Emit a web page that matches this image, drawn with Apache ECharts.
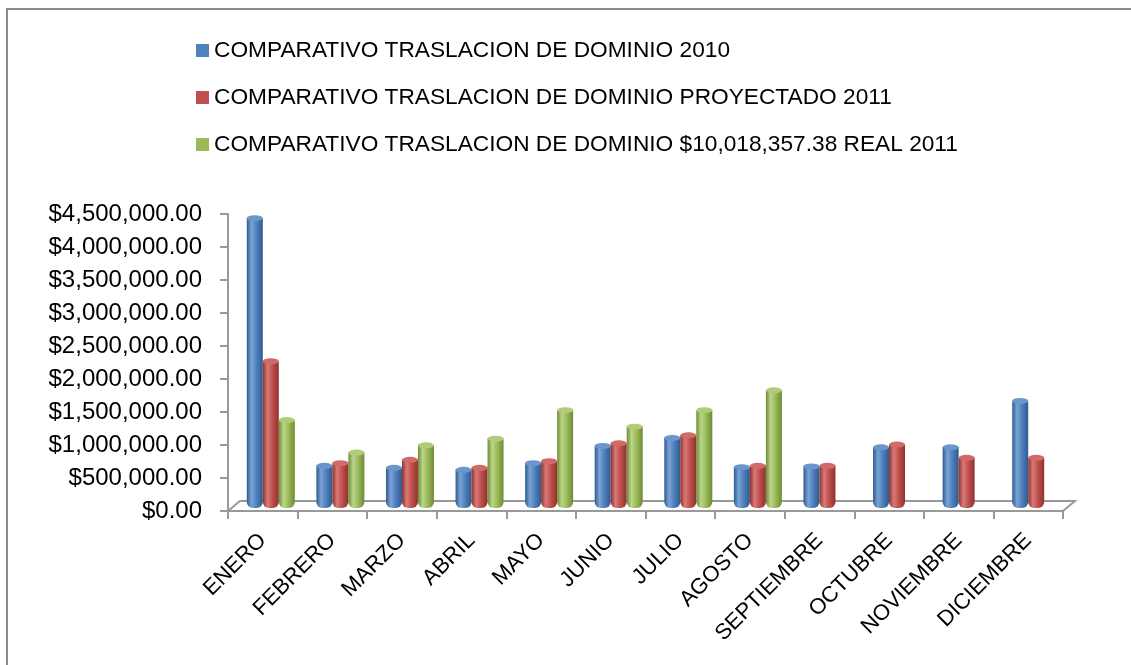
<!DOCTYPE html>
<html><head><meta charset="utf-8">
<script src="https://cdn.jsdelivr.net/npm/echarts@6/dist/echarts.min.js"></script>
<style>html,body{margin:0;padding:0;background:#fff}#c{width:1131px;height:665px}</style>
</head><body><div id="c"></div>
<script>
const meses = ['ENERO','FEBRERO','MARZO','ABRIL','MAYO','JUNIO','JULIO','AGOSTO','SEPTIEMBRE','OCTUBRE','NOVIEMBRE','DICIEMBRE'];
const nombres = ['COMPARATIVO TRASLACION DE DOMINIO 2010','COMPARATIVO TRASLACION DE DOMINIO PROYECTADO 2011','COMPARATIVO TRASLACION DE DOMINIO $10,018,357.38 REAL 2011'];
const v2010 = [4380000, 640000, 610000, 580000, 680000, 940000, 1060000, 620000, 630000, 920000, 920000, 1620000];
const proy2011 = [2220000, 680000, 730000, 610000, 710000, 980000, 1100000, 640000, 640000, 960000, 760000, 760000];
const real2011 = [1330000, 840000, 950000, 1050000, 1480000, 1230000, 1480000, 1780000, null, null, null, null];
const yTicks = {min:0, max:4500000, interval:500000};

const colores = [
  {base:'#4F81BD', dark:'#2f5a8e', light:'#7aa3d6', top:'#6b96cc'},
  {base:'#C0504D', dark:'#8e3230', light:'#d97a77', top:'#d06b68'},
  {base:'#9BBB59', dark:'#6e8a35', light:'#bcd68a', top:'#b0cc79'}
];
function grad(c){
  return new echarts.graphic.LinearGradient(0,0,1,0,[
    {offset:0,color:c.dark},{offset:0.3,color:c.light},{offset:0.6,color:c.base},{offset:1,color:c.dark}]);
}
function fmt(v){
  return '$' + v.toLocaleString('en-US',{minimumFractionDigits:2,maximumFractionDigits:2});
}
const datos = [v2010, proy2011, real2011];
const FONT = 'Liberation Sans';

const series = [];
datos.forEach((d,i)=>{
  series.push({name:nombres[i], type:'pictorialBar', xAxisIndex:0, yAxisIndex:0, symbol:'circle',
    symbolSize:[16,6], symbolPosition:'end', symbolOffset:[0,'-50%'], barGap:'0%', barWidth:16,
    data:d, itemStyle:{color:colores[i].top, borderColor:colores[i].dark, borderWidth:0.6}, z:3, legendHoverLink:false});
});
datos.forEach((d,i)=>{
  series.push({name:nombres[i], type:'bar', xAxisIndex:0, yAxisIndex:0, barWidth:16, barGap:'0%',
    data:d, itemStyle:{color:grad(colores[i]), borderRadius:[0,0,6,6]}, z:2});
});

const chart = echarts.init(document.getElementById('c'), null, {renderer:'canvas'});
chart.setOption({
  animation:false,
  backgroundColor:'#fff',
  textStyle:{fontFamily:FONT},
  legend:{data:nombres.map((n,i)=>({name:n, icon:'rect', itemStyle:{color:colores[i].base, borderWidth:0}})),
    orient:'vertical', left:191, top:34, itemWidth:13, itemHeight:13, itemGap:24,
    textStyle:{fontFamily:FONT, fontSize:22.7, color:'#000'}},
  grid:[
    {left:236, right:60, top:210, bottom:157},
    {left:228, right:68, top:214, bottom:154}
  ],
  xAxis:[
    {gridIndex:0, type:'category', data:meses, show:false},
    {gridIndex:1, type:'category', data:meses, boundaryGap:true,
      axisLine:{lineStyle:{color:'#999', width:2}},
      axisTick:{show:true, length:8, alignWithLabel:false, lineStyle:{color:'#999', width:2}},
      axisLabel:{rotate:45, margin:26, fontSize:22, color:'#000', fontFamily:FONT, interval:0}}
  ],
  yAxis:[
    {gridIndex:0, type:'value', min:yTicks.min, max:yTicks.max, interval:yTicks.interval, show:false, splitLine:{show:false}},
    {gridIndex:1, type:'value', min:yTicks.min, max:yTicks.max, interval:yTicks.interval,
      axisLine:{show:true, lineStyle:{color:'#999', width:2}},
      axisTick:{show:true, length:8, lineStyle:{color:'#999', width:2}},
      splitLine:{show:false},
      axisLabel:{formatter:fmt, fontSize:24, color:'#000', fontFamily:FONT, margin:26}}
  ],
  graphic:[
    {type:'rect', shape:{x:7, y:9, width:1300, height:800}, style:{fill:null, stroke:'#8c8c8c', lineWidth:2}, z:0, silent:true},
    {type:'polyline', shape:{points:[[228,511],[240,501],[1075,501],[1063,511]]}, style:{fill:null, stroke:'#999', lineWidth:2}, z:1, silent:true}
  ],
  series:series
});
</script></body></html>
